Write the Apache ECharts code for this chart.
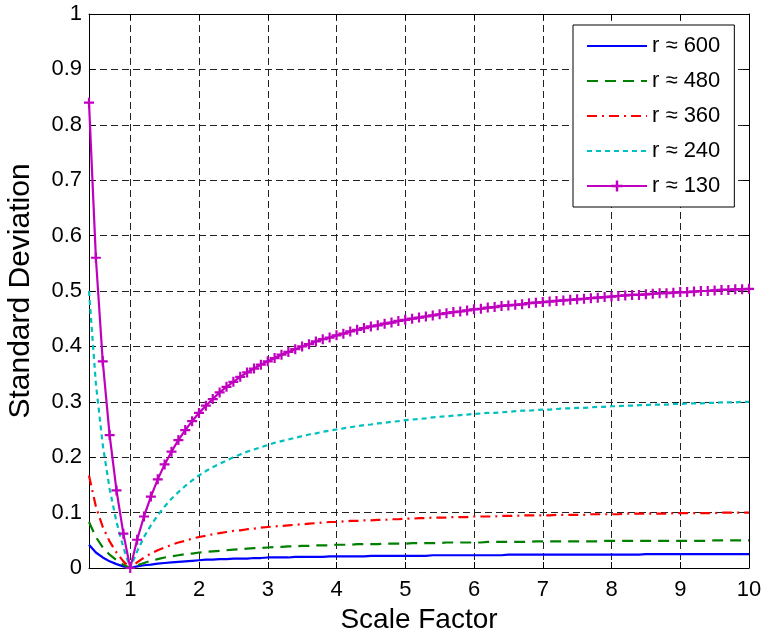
<!DOCTYPE html>
<html>
<head>
<meta charset="utf-8">
<script src="https://cdn.jsdelivr.net/npm/echarts@6/dist/echarts.min.js"></script>
<style>
  html, body { margin: 0; padding: 0; background: #fff; }
  #chart { width: 763px; height: 639px; }
</style>
</head>
<body>
<div id="chart"></div>
<script>
// Sample positions along the scale-factor axis
const scaleFactor = [
  0.4, 0.5, 0.6, 0.7, 0.8, 0.9, 1.0, 1.1, 1.2, 1.3, 1.4, 1.5, 1.6, 1.7, 1.8, 1.9,
  2.0, 2.1, 2.2, 2.3, 2.4, 2.5, 2.6, 2.7, 2.8, 2.9, 3.0, 3.1, 3.2, 3.3, 3.4, 3.5,
  3.6, 3.7, 3.8, 3.9, 4.0, 4.1, 4.2, 4.3, 4.4, 4.5, 4.6, 4.7, 4.8, 4.9, 5.0, 5.1,
  5.2, 5.3, 5.4, 5.5, 5.6, 5.7, 5.8, 5.9, 6.0, 6.1, 6.2, 6.3, 6.4, 6.5, 6.6, 6.7,
  6.8, 6.9, 7.0, 7.1, 7.2, 7.3, 7.4, 7.5, 7.6, 7.7, 7.8, 7.9, 8.0, 8.1, 8.2, 8.3,
  8.4, 8.5, 8.6, 8.7, 8.8, 8.9, 9.0, 9.1, 9.2, 9.3, 9.4, 9.5, 9.6, 9.7, 9.8, 9.9, 10.0
];

// Standard deviation for each radius
const sd600 = [
  0.042, 0.028, 0.019, 0.012, 0.007, 0.003, 0, 0.003, 0.005, 0.006, 0.008, 0.009, 0.010, 0.011, 0.012, 0.013,
  0.014, 0.015, 0.015, 0.016, 0.016, 0.017, 0.017, 0.017, 0.018, 0.018, 0.019, 0.019, 0.019, 0.019, 0.020, 0.020,
  0.020, 0.020, 0.020, 0.021, 0.021, 0.021, 0.021, 0.021, 0.021, 0.022, 0.022, 0.022, 0.022, 0.022, 0.022, 0.022,
  0.022, 0.022, 0.023, 0.023, 0.023, 0.023, 0.023, 0.023, 0.023, 0.023, 0.023, 0.023, 0.023, 0.024, 0.024, 0.024,
  0.024, 0.024, 0.024, 0.024, 0.024, 0.024, 0.024, 0.024, 0.024, 0.024, 0.024, 0.024, 0.024, 0.024, 0.024, 0.024,
  0.024, 0.025, 0.025, 0.025, 0.025, 0.025, 0.025, 0.025, 0.025, 0.025, 0.025, 0.025, 0.025, 0.025, 0.025, 0.025, 0.025
];
const sd480 = [
  0.083, 0.056, 0.037, 0.024, 0.014, 0.006, 0, 0.005, 0.009, 0.013, 0.016, 0.019, 0.021, 0.023, 0.025, 0.026,
  0.028, 0.029, 0.030, 0.031, 0.032, 0.033, 0.034, 0.035, 0.036, 0.036, 0.037, 0.038, 0.038, 0.039, 0.039, 0.040,
  0.040, 0.041, 0.041, 0.041, 0.042, 0.042, 0.042, 0.043, 0.043, 0.043, 0.043, 0.044, 0.044, 0.044, 0.044, 0.045,
  0.045, 0.045, 0.045, 0.045, 0.046, 0.046, 0.046, 0.046, 0.046, 0.046, 0.047, 0.047, 0.047, 0.047, 0.047, 0.047,
  0.047, 0.048, 0.048, 0.048, 0.048, 0.048, 0.048, 0.048, 0.048, 0.048, 0.048, 0.049, 0.049, 0.049, 0.049, 0.049,
  0.049, 0.049, 0.049, 0.049, 0.049, 0.049, 0.049, 0.049, 0.049, 0.049, 0.049, 0.050, 0.050, 0.050, 0.050, 0.050, 0.050
];
const sd360 = [
  0.167, 0.111, 0.074, 0.048, 0.028, 0.012, 0, 0.010, 0.019, 0.026, 0.032, 0.037, 0.042, 0.046, 0.049, 0.053,
  0.056, 0.058, 0.061, 0.063, 0.065, 0.067, 0.068, 0.070, 0.071, 0.073, 0.074, 0.075, 0.076, 0.077, 0.078, 0.079,
  0.080, 0.081, 0.082, 0.083, 0.083, 0.084, 0.085, 0.085, 0.086, 0.086, 0.087, 0.087, 0.088, 0.088, 0.089, 0.089,
  0.090, 0.090, 0.091, 0.091, 0.091, 0.092, 0.092, 0.092, 0.093, 0.093, 0.093, 0.093, 0.094, 0.094, 0.094, 0.095,
  0.095, 0.095, 0.095, 0.095, 0.096, 0.096, 0.096, 0.096, 0.096, 0.097, 0.097, 0.097, 0.097, 0.097, 0.098, 0.098,
  0.098, 0.098, 0.098, 0.098, 0.098, 0.099, 0.099, 0.099, 0.099, 0.099, 0.099, 0.099, 0.100, 0.100, 0.100, 0.100, 0.100
];
const sd240 = [
  0.500, 0.333, 0.222, 0.143, 0.083, 0.037, 0, 0.030, 0.056, 0.077, 0.095, 0.111, 0.125, 0.137, 0.148, 0.158,
  0.167, 0.175, 0.182, 0.188, 0.194, 0.200, 0.205, 0.210, 0.214, 0.218, 0.222, 0.226, 0.229, 0.232, 0.235, 0.238,
  0.241, 0.243, 0.246, 0.248, 0.250, 0.252, 0.254, 0.256, 0.258, 0.259, 0.261, 0.262, 0.264, 0.265, 0.267, 0.268,
  0.269, 0.270, 0.272, 0.273, 0.274, 0.275, 0.276, 0.277, 0.278, 0.279, 0.280, 0.280, 0.281, 0.282, 0.283, 0.284,
  0.284, 0.285, 0.286, 0.286, 0.287, 0.288, 0.288, 0.289, 0.289, 0.290, 0.291, 0.291, 0.292, 0.292, 0.293, 0.293,
  0.294, 0.294, 0.295, 0.295, 0.295, 0.296, 0.296, 0.297, 0.297, 0.297, 0.298, 0.298, 0.299, 0.299, 0.299, 0.300, 0.300
];
const sd130 = [
  0.840, 0.560, 0.373, 0.240, 0.140, 0.062, 0, 0.051, 0.093, 0.129, 0.160, 0.187, 0.210, 0.231, 0.249, 0.265,
  0.280, 0.293, 0.305, 0.317, 0.327, 0.336, 0.345, 0.353, 0.360, 0.367, 0.373, 0.379, 0.385, 0.390, 0.395, 0.400,
  0.404, 0.409, 0.413, 0.416, 0.420, 0.423, 0.427, 0.430, 0.433, 0.436, 0.438, 0.441, 0.443, 0.446, 0.448, 0.450,
  0.452, 0.454, 0.456, 0.458, 0.460, 0.462, 0.463, 0.465, 0.467, 0.468, 0.470, 0.471, 0.473, 0.474, 0.475, 0.476,
  0.478, 0.479, 0.480, 0.481, 0.482, 0.483, 0.484, 0.485, 0.486, 0.487, 0.488, 0.489, 0.490, 0.491, 0.492, 0.493,
  0.493, 0.494, 0.495, 0.496, 0.496, 0.497, 0.498, 0.498, 0.499, 0.500, 0.500, 0.501, 0.502, 0.502, 0.503, 0.503, 0.504
];

const seriesNames = ['r ≈ 600', 'r ≈ 480', 'r ≈ 360', 'r ≈ 240', 'r ≈ 130'];
const xTickValues = [1, 2, 3, 4, 5, 6, 7, 8, 9, 10];

const FONT = '"Liberation Sans", Arial, Helvetica, sans-serif';
const pairs = ys => scaleFactor.map((x, i) => [x, ys[i]]);
// "+" marker built from two filled bars
const PLUS = 'path://M3.9,0h2.2v10h-2.2z M0,3.9h10v2.2h-10z';

const gridDash = { color: '#222', width: 1, type: [7, 4] };

// Legend entries: plain line samples, with the "+" kept only for the marked series
const legendData = seriesNames.map((name, i) => i < 4
  ? { name, itemStyle: { opacity: 0 } }
  : { name });

const chart = echarts.init(document.getElementById('chart'), null, { renderer: 'canvas' });

chart.setOption({
  animation: false,
  backgroundColor: '#fff',
  textStyle: { fontFamily: FONT },
  grid: { left: 89, right: 14, top: 14, bottom: 71, containLabel: false, outerBoundsMode: 'none' },
  legend: {
    left: 573,
    top: 25,
    orient: 'vertical',
    backgroundColor: '#fff',
    borderColor: '#000',
    borderWidth: 1,
    borderRadius: 0,
    padding: [10, 14, 10, 13],
    itemWidth: 60,
    itemHeight: 14,
    itemGap: 13,
    textStyle: { fontFamily: FONT, fontSize: 22, color: '#000', lineHeight: 22 },
    data: legendData
  },
  xAxis: [
    {
      type: 'value',
      min: 0.4,
      max: 10,
      name: 'Scale Factor',
      nameLocation: 'middle',
      nameGap: 36,
      nameTextStyle: { fontFamily: FONT, fontSize: 28, color: '#000' },
      axisLine: { show: true, onZero: false, lineStyle: { color: '#000', width: 1 } },
      axisTick: { show: true, inside: true, length: 6, customValues: xTickValues, lineStyle: { color: '#000' } },
      axisLabel: { show: true, customValues: xTickValues, margin: 11, fontFamily: FONT, fontSize: 22, color: '#000' },
      splitLine: { show: true, lineStyle: gridDash }
    },
    {
      type: 'value',
      position: 'top',
      min: 0.4,
      max: 10,
      axisLine: { show: true, onZero: false, lineStyle: { color: '#000', width: 1 } },
      axisTick: { show: true, inside: true, length: 6, customValues: xTickValues, lineStyle: { color: '#000' } },
      axisLabel: { show: false },
      splitLine: { show: false }
    }
  ],
  yAxis: [
    {
      type: 'value',
      min: 0,
      max: 1,
      interval: 0.1,
      name: 'Standard Deviation',
      nameLocation: 'middle',
      nameGap: 53,
      nameTextStyle: { fontFamily: FONT, fontSize: 30, color: '#000' },
      axisLine: { show: true, onZero: false, lineStyle: { color: '#000', width: 1 } },
      axisTick: { show: true, inside: true, length: 6, lineStyle: { color: '#000' } },
      axisLabel: { show: true, margin: 7, fontFamily: FONT, fontSize: 22, color: '#000' },
      splitLine: { show: true, lineStyle: gridDash }
    },
    {
      type: 'value',
      position: 'right',
      min: 0,
      max: 1,
      interval: 0.1,
      axisLine: { show: true, onZero: false, lineStyle: { color: '#000', width: 1 } },
      axisTick: { show: true, inside: true, length: 6, lineStyle: { color: '#000' } },
      axisLabel: { show: false },
      splitLine: { show: false }
    }
  ],
  series: [
    {
      name: seriesNames[0], type: 'line', xAxisIndex: 0, yAxisIndex: 0,
      data: pairs(sd600), symbol: 'none',
      lineStyle: { color: '#0000ff', width: 2.2, type: 'solid' },
      itemStyle: { color: '#0000ff' }
    },
    {
      name: seriesNames[1], type: 'line', xAxisIndex: 0, yAxisIndex: 0,
      data: pairs(sd480), symbol: 'none',
      lineStyle: { color: '#008000', width: 2.2, type: [11, 7] },
      itemStyle: { color: '#008000' }
    },
    {
      name: seriesNames[2], type: 'line', xAxisIndex: 0, yAxisIndex: 0,
      data: pairs(sd360), symbol: 'none',
      lineStyle: { color: '#ff0000', width: 2.2, type: [10, 5, 2, 5] },
      itemStyle: { color: '#ff0000' }
    },
    {
      name: seriesNames[3], type: 'line', xAxisIndex: 0, yAxisIndex: 0,
      data: pairs(sd240), symbol: 'none',
      lineStyle: { color: '#00bfbf', width: 2.2, type: [5, 4] },
      itemStyle: { color: '#00bfbf' }
    },
    {
      name: seriesNames[4], type: 'line', xAxisIndex: 0, yAxisIndex: 0,
      data: pairs(sd130), symbol: PLUS, symbolSize: 10, showAllSymbol: true,
      lineStyle: { color: '#bf00bf', width: 2.2, type: 'solid' },
      itemStyle: { color: '#bf00bf' }
    }
  ]
});
</script>
</body>
</html>
